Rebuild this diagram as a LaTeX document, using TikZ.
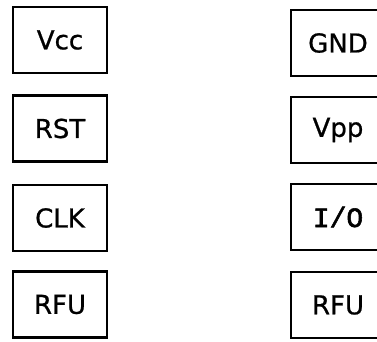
\documentclass[tikz,border=0pt]{standalone}
\usepackage{fontspec}
\setmainfont{DejaVu Sans}[FakeBold=0.8]
\newfontfamily\pinmono{Liberation Mono}[FakeBold=2]
\usepackage{tikz}

\begin{document}
\begin{tikzpicture}[x=1pt, y=-1pt,
    pin/.style={draw, line width=2.6pt, minimum width=94pt, minimum height=66pt,
        inner sep=0pt, font=\fontsize{26}{30}\selectfont}]
    \useasboundingbox (0,0) rectangle (377,341);
    \clip (0,0) rectangle (377,341);
    % left column
    \node[pin] (vcc) at (60,40) {Vcc};
    \node[pin] (rst) at (60,128.5) {RST};
    \node[pin] (clk) at (60,218) {CLK};
    \node[pin] (rfuL) at (60,304.5) {RFU};
    % right column
    \node[pin] (gnd) at (338,43) {GND};
    \node[pin] (vpp) at (338,130) {Vpp};
    \node[pin, font=\pinmono\fontsize{28}{32}\selectfont] (io) at (338,217) {I/O};
    \node[pin] (rfuR) at (338,305) {RFU};
\end{tikzpicture}
\end{document}
